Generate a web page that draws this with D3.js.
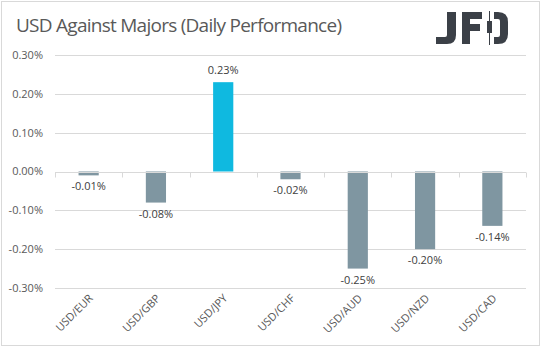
<!DOCTYPE html>
<html>
<head>
<meta charset="utf-8">
<script src="https://cdn.jsdelivr.net/npm/d3@7/dist/d3.min.js"></script>
<style>
  body { margin: 0; background: #fff; }
  text { font-family: "Open Sans", "Noto Sans", sans-serif; fill: #595959; }
</style>
</head>
<body>
<div id="chart"></div>
<script>
// chart data
var pairs = ["USD/EUR", "USD/GBP", "USD/JPY", "USD/CHF", "USD/AUD", "USD/NZD", "USD/CAD"];
var changes = [-0.01, -0.08, 0.23, -0.02, -0.25, -0.20, -0.14];
var yTicks = [-0.30, -0.20, -0.10, 0.00, 0.10, 0.20, 0.30];
var highlight = "USD/JPY";

var W = 543, H = 351;
var margin = { top: 55, right: 17, bottom: 63, left: 55 };
var width = W - margin.left - margin.right,
    height = H - margin.top - margin.bottom;

// plain hyphen minus like the original
var pct = function(v) { return d3.format(".2f")(v).replace("\u2212", "-") + "%"; };

var svg = d3.select("#chart").append("svg")
    .attr("width", W)
    .attr("height", H);

// outer frame
svg.append("rect")
    .attr("x", 1.5).attr("y", 1.5)
    .attr("width", 538).attr("height", 344)
    .attr("fill", "none")
    .attr("stroke", "#d9d9d9");

// title
svg.append("text")
    .attr("x", 16).attr("y", 32)
    .style("font-size", "19px")
    .attr("textLength", 326)
    .text("USD Against Majors (Daily Performance)");

// logo (J, F, candle, D)
var logoCol = "#3b4047";
var logo = svg.append("g");
logo.append("path")
    .attr("d", "M447,12 H456 V35 Q456,44 447,44 H436 V37 H445 Q447,37 447,35 Z")
    .attr("fill", logoCol);
logo.append("path")
    .attr("d", "M462,12 H482 V19 H470 V24 H480 V31 H470 V44 H462 Z")
    .attr("fill", logoCol);
logo.append("line")
    .attr("x1", 489.5).attr("x2", 489.5).attr("y1", 11).attr("y2", 45)
    .attr("stroke", logoCol).attr("stroke-width", 1);
logo.append("rect")
    .attr("x", 487).attr("y", 21).attr("width", 5).attr("height", 12)
    .attr("fill", logoCol);
logo.append("path")
    .attr("d", "M494,12 H498 Q508,12 508,22 V34 Q508,44 498,44 H494 V37 H498 Q500,37 500,35 V21 Q500,19 498,19 H494 Z")
    .attr("fill", logoCol);

var g = svg.append("g")
    .attr("transform", "translate(" + margin.left + "," + margin.top + ")");

var x = d3.scaleBand().domain(pairs).range([0, width]).paddingInner(0.7).paddingOuter(0.35);
var xOuter = d3.scaleBand().domain(pairs).range([0, width]);
var y = d3.scaleLinear().domain([-0.30, 0.30]).range([height, 0]);

// gridlines
g.selectAll(".grid")
    .data(yTicks.filter(function(d) { return d !== 0; }))
    .enter().append("line")
    .attr("class", "grid")
    .attr("x1", 0).attr("x2", width)
    .attr("y1", function(d) { return Math.round(y(d)) + 0.5; })
    .attr("y2", function(d) { return Math.round(y(d)) + 0.5; })
    .attr("stroke", "#d9d9d9");

// y tick labels
g.selectAll(".ylab")
    .data(yTicks)
    .enter().append("text")
    .attr("class", "ylab")
    .attr("x", -12)
    .attr("y", function(d) { return y(d); })
    .attr("dy", "0.35em")
    .attr("text-anchor", "end")
    .style("font-size", "11px")
    .text(pct);

// bars
g.selectAll(".bar")
    .data(pairs)
    .enter().append("rect")
    .attr("class", "bar")
    .attr("x", function(d) { return x(d); })
    .attr("width", x.bandwidth())
    .attr("y", function(d, i) { return y(Math.max(0, changes[i])); })
    .attr("height", function(d, i) { return Math.abs(y(changes[i]) - y(0)); })
    .attr("fill", function(d) { return d === highlight ? "#0fb9e0" : "#7f96a1"; });

// zero axis with ticks
var zeroY = Math.round(y(0)) + 0.5;
g.append("line")
    .attr("x1", 0).attr("x2", width)
    .attr("y1", zeroY).attr("y2", zeroY)
    .attr("stroke", "#d9d9d9");
g.selectAll(".xtick")
    .data(pairs.concat(["end"]))
    .enter().append("line")
    .attr("class", "xtick")
    .attr("x1", function(d, i) { return Math.round(i * xOuter.step()) + 0.5; })
    .attr("x2", function(d, i) { return Math.round(i * xOuter.step()) + 0.5; })
    .attr("y1", zeroY).attr("y2", zeroY + 5)
    .attr("stroke", "#d9d9d9");

// value labels
g.selectAll(".vlab")
    .data(pairs)
    .enter().append("text")
    .attr("class", "vlab")
    .attr("x", function(d) { return x(d) + x.bandwidth() / 2; })
    .attr("y", function(d, i) { return changes[i] >= 0 ? y(changes[i]) - 8 : y(changes[i]) + 15; })
    .attr("text-anchor", "middle")
    .style("font-size", "11px")
    .style("fill", "#404040")
    .text(function(d, i) { return pct(changes[i]); });

// category labels
g.selectAll(".xlab")
    .data(pairs)
    .enter().append("text")
    .attr("class", "xlab")
    .attr("text-anchor", "end")
    .style("font-size", "11px")
    .attr("transform", function(d) {
        return "translate(" + (x(d) + x.bandwidth() / 2 + 5) + "," + (height + 11) + ") rotate(-45)";
    })
    .text(function(d) { return d; });
</script>
</body>
</html>
